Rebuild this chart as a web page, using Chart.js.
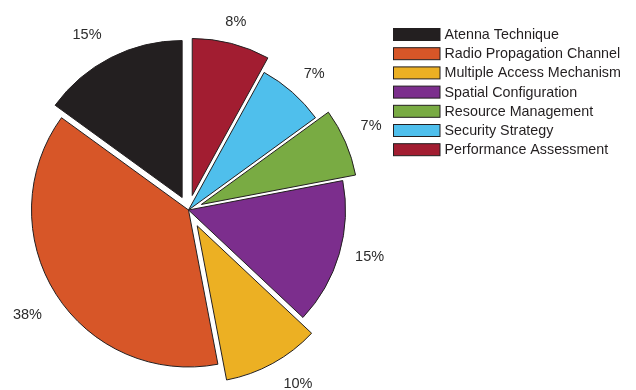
<!DOCTYPE html>
<html>
<head>
<meta charset="utf-8">
<script src="https://cdn.jsdelivr.net/npm/chart.js@4/dist/chart.umd.min.js"></script>
<style>
  html, body { margin: 0; padding: 0; background: #ffffff; }
  #wrap { width: 636px; height: 390px; position: relative; }
</style>
</head>
<body>
<div id="wrap"><canvas id="pieChart"></canvas></div>
<script>
// slices listed clockwise from 12 o'clock
const categories = ['Performance Assessment', 'Security Strategy', 'Resource Management',
  'Spatial Configuration', 'Multiple Access Mechanism', 'Radio Propagation Channel', 'Atenna Technique'];
const shares = [8, 7, 7, 15, 10, 38, 15];
const sliceColors = ['#a21d31', '#4fbfec', '#79ab43', '#7c2e8d', '#ecb023', '#d75628', '#231f20'];

// how far each slice is pulled out, how far its label sits past the rim,
// and a small turn (degrees) of the label off the bisector
const explode = [15, 0, 14, 0, 18, 0, 14];
const labelGap = [22, 28, 30, 30, 30.5, 35.5, 31];
const labelTurn = [-0.3, 1.4, -1.4, -1.8, -3.7, -0.8, -3.4];

const FONT = '"Liberation Sans", Arial, Helvetica, sans-serif';

// draws each arc shifted along its bisector
const explodedArcs = {
  id: 'explodedArcs',
  beforeDatasetsDraw(chart) {
    const ctx = chart.ctx;
    const meta = chart.getDatasetMeta(0);
    meta.data.forEach((arc, i) => {
      const mid = (arc.startAngle + arc.endAngle) / 2;
      ctx.save();
      ctx.translate(Math.cos(mid) * explode[i], Math.sin(mid) * explode[i]);
      arc.draw(ctx);
      ctx.restore();
    });
    return false;
  }
};

// percentage labels outside the pie + legend box on the right
const pieLabels = {
  id: 'pieLabels',
  afterDraw(chart) {
    const ctx = chart.ctx;
    const meta = chart.getDatasetMeta(0);
    const values = chart.data.datasets[0].data;
    const total = values.reduce((a, b) => a + b, 0);

    ctx.save();
    ctx.font = '14.5px ' + FONT;
    ctx.fillStyle = '#2b2b2b';
    ctx.textAlign = 'center';
    ctx.textBaseline = 'middle';
    meta.data.forEach((arc, i) => {
      const mid = (arc.startAngle + arc.endAngle) / 2;
      const ax = arc.x + Math.cos(mid) * explode[i];
      const ay = arc.y + Math.sin(mid) * explode[i];
      const ang = mid + labelTurn[i] * Math.PI / 180;
      const dist = arc.outerRadius + labelGap[i];
      ctx.fillText(Math.round(values[i] / total * 100) + '%',
        ax + Math.cos(ang) * dist, ay + Math.sin(ang) * dist);
    });

    // legend, listed counter-clockwise (reverse of the data order)
    const left = 393.5, top = 28.5, rowH = 19.2, boxW = 46.5, boxH = 12;
    ctx.font = '14.3px ' + FONT;
    ctx.textAlign = 'left';
    ctx.lineWidth = 1;
    ctx.strokeStyle = '#231f20';
    const order = categories.map((c, i) => i).reverse();
    order.forEach((idx, row) => {
      const y = top + row * rowH;
      ctx.fillStyle = sliceColors[idx];
      ctx.fillRect(left, y, boxW, boxH);
      ctx.strokeRect(left, y, boxW, boxH);
      ctx.fillStyle = '#231f20';
      ctx.fillText(categories[idx], 444.5, y + boxH / 2 + 0.5);
    });
    ctx.restore();
  }
};

document.addEventListener('DOMContentLoaded', function () {
  const ctx = document.getElementById('pieChart').getContext('2d');
  new Chart(ctx, {
    type: 'pie',
    data: {
      labels: categories,
      datasets: [{
        data: shares,
        backgroundColor: sliceColors,
        borderColor: '#231f20',
        borderWidth: 1
      }]
    },
    options: {
      responsive: true,
      maintainAspectRatio: false,
      animation: false,
      radius: 157,
      layout: {
        padding: { left: 0, right: 259, top: 30, bottom: 0 }
      },
      plugins: {
        legend: { display: false },
        tooltip: { enabled: false }
      }
    },
    plugins: [explodedArcs, pieLabels]
  });
});
</script>
</body>
</html>
